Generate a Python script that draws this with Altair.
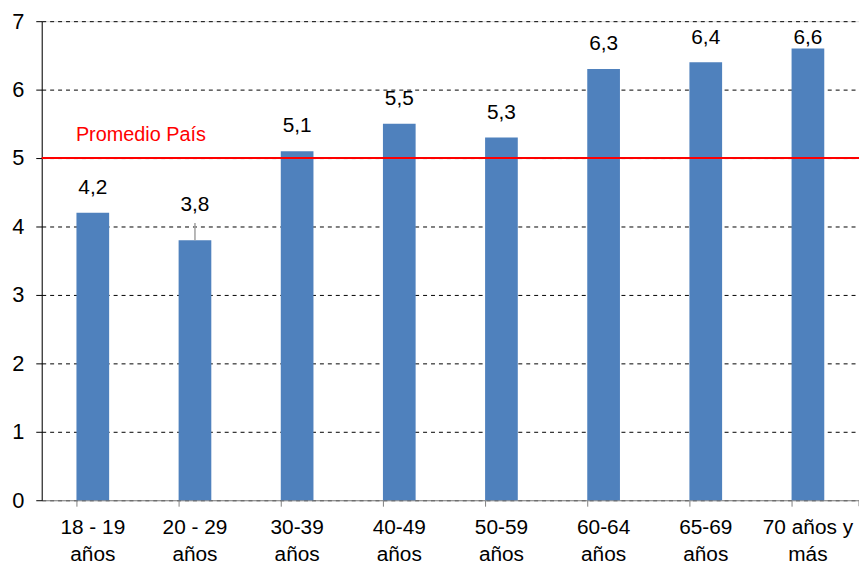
import altair as alt
import pandas as pd

categories = ["18 - 19\naños", "20 - 29\naños", "30-39\naños", "40-49\naños",
              "50-59\naños", "60-64\naños", "65-69\naños", "70 años y\nmás"]
values = [4.2, 3.8, 5.1, 5.5, 5.3, 6.3, 6.4, 6.6]
labels = ["4,2", "3,8", "5,1", "5,5", "5,3", "6,3", "6,4", "6,6"]
promedio = 5
promedio_label = "Promedio País"

df = pd.DataFrame({"cat": categories, "value": values, "label": labels})
FONT = "Liberation Sans"
W, H = 824, 483

xenc = alt.X("cat:N", sort=categories, title=None,
             scale=alt.Scale(paddingInner=0.68, paddingOuter=0.34),
             axis=alt.Axis(labelExpr="split(datum.label, '\\n')", labelAngle=0,
                           labelFont=FONT, labelFontSize=21, labelColor="black",
                           labelLineHeight=27, labelPadding=11, labelBaseline="top",
                           domainColor="#808080", tickColor="#808080", tickSize=6,
                           bandPosition=0, grid=False))
yscale = alt.Scale(domain=[0, 7], nice=False)

bars = alt.Chart(df).mark_bar(color="#4F81BD").encode(
    x=xenc,
    y=alt.Y("value:Q", scale=yscale, title=None,
            axis=alt.Axis(values=list(range(8)), format="d", labelFont=FONT,
                          labelFontSize=22, labelColor="black", domainColor="black",
                          tickColor="black", tickSize=6, labelPadding=12, grid=True,
                          gridColor="black", gridDash=[4, 4], gridWidth=1)),
)

# labels are kept inside the plot area (as in the original), so clamp near the top
text_main = alt.Chart(df).transform_filter("datum.value != 3.8").transform_calculate(
    ly="min(datum.value, 6.39)"
).mark_text(
    font=FONT, fontSize=21, color="black", baseline="middle", dy=-25
).encode(x=alt.X("cat:N", sort=categories), y=alt.Y("ly:Q", scale=yscale), text="label:N")

text_38 = alt.Chart(df).transform_filter("datum.value == 3.8").mark_text(
    font=FONT, fontSize=21, color="black", baseline="middle", dy=-35
).encode(x=alt.X("cat:N", sort=categories), y=alt.Y("value:Q", scale=yscale), text="label:N")

leader = alt.Chart(df).transform_filter("datum.value == 3.8").transform_calculate(
    top="datum.value + 0.25"
).mark_rule(color="#A0A0A0", strokeWidth=1.5).encode(
    x=alt.X("cat:N", sort=categories), y=alt.Y("value:Q", scale=yscale), y2="top:Q")

line_df = pd.DataFrame({"y": [promedio], "t": [promedio_label]})
redline = alt.Chart(line_df).mark_rule(color="#FF0000", strokeWidth=2).encode(
    y=alt.Y("y:Q", scale=yscale))
redtext = alt.Chart(line_df).mark_text(
    font=FONT, fontSize=20, color="#FF0000", baseline="middle", dy=-23
).encode(x=alt.value(100), y=alt.Y("y:Q", scale=yscale), text="t:N")

endtick = alt.Chart(line_df).mark_rule(color="#808080").encode(
    x=alt.value(W), y=alt.value(H), y2=alt.value(H + 6))

chart = alt.layer(bars, redline, leader, text_main, text_38, redtext, endtick).properties(
    width=W, height=H,
    autosize=alt.AutoSizeParams(type="none"),
    padding={"left": 34, "top": 11, "right": 0, "bottom": 62},
).configure_view(stroke=None).configure(background="white")

chart.save("out.html", embed_options={"renderer": "svg", "actions": False})
